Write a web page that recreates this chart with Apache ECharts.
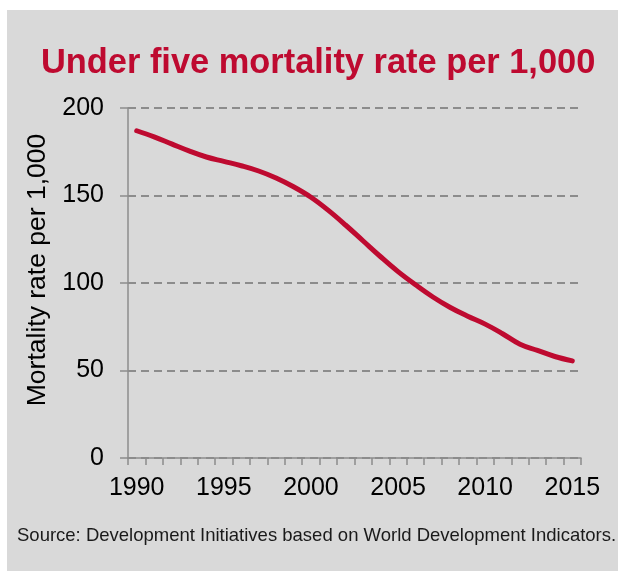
<!DOCTYPE html>
<html>
<head>
<meta charset="utf-8">
<script src="https://cdn.jsdelivr.net/npm/echarts@6/dist/echarts.min.js"></script>
<style>
html,body{margin:0;padding:0;background:#fff;}
#c{width:618px;height:571px;}
</style>
</head>
<body>
<div id="c"></div>
<script>
var years = ['1990','1991','1992','1993','1994','1995','1996','1997','1998','1999','2000','2001','2002','2003','2004','2005','2006','2007','2008','2009','2010','2011','2012','2013','2014','2015'];
var mortality = [187,183.5,179.5,175.5,172,169.5,167,164,160,155,149,141.5,133,124,115,106.5,99,92,86,81,76.5,71,65,61.5,58,55.5];
var yTicks = {min:0, max:200, interval:50};
var titleText = 'Under five mortality rate per 1,000';
var sourceText = 'Source: Development Initiatives based on World Development Indicators.';
var yName = 'Mortality rate per 1,000';

var chart = echarts.init(document.getElementById('c'));
var FONT = 'Liberation Sans, Arial, sans-serif';
chart.setOption({
  backgroundColor: '#ffffff',
  animation: false,
  graphic: [{
    type: 'rect', z: -10, silent: true,
    shape: {x: 7, y: 10, width: 611, height: 561},
    style: {fill: '#d9d9d9'}
  }],
  title: [{
    text: titleText, left: 41, top: 47, padding: 0,
    textStyle: {fontFamily: FONT, fontSize: 34.4, fontWeight: 'bold', color: '#be0a30'}
  }, {
    text: sourceText, left: 17, top: 526, padding: 0,
    textStyle: {fontFamily: FONT, fontSize: 18.5, fontWeight: 'normal', color: '#1a1a1a'}
  }],
  grid: {left: 128, right: 37, top: 108, bottom: 113, containLabel: false},
  xAxis: {
    type: 'category', data: years, boundaryGap: true,
    axisLine: {lineStyle: {color: '#8c8c8c', width: 1.5}},
    axisTick: {show: true, interval: 0, length: 7, lineStyle: {color: '#8c8c8c', width: 1.5}},
    axisLabel: {interval: 4, margin: 18, fontFamily: FONT, fontSize: 25, color: '#000'},
    splitLine: {show: false}
  },
  yAxis: {
    type: 'value', min: yTicks.min, max: yTicks.max, interval: yTicks.interval,
    name: yName, nameLocation: 'middle', nameGap: 72, nameRotate: 90,
    nameTextStyle: {fontFamily: FONT, fontSize: 26.5, color: '#000', padding: [0, 0, 0, 26]},
    axisLine: {show: true, lineStyle: {color: '#8c8c8c', width: 1.5}},
    axisTick: {show: true, length: 8, lineStyle: {color: '#8c8c8c', width: 1.5}},
    axisLabel: {margin: 24, fontFamily: FONT, fontSize: 25, color: '#000'},
    splitLine: {show: true, lineStyle: {color: '#8c8c8c', width: 2, type: [8, 5]}}
  },
  series: [{
    type: 'line', data: mortality, smooth: 0.4, showSymbol: false,
    lineStyle: {color: '#be0a30', width: 5, cap: 'round', join: 'round'}
  }]
});
</script>
</body>
</html>
